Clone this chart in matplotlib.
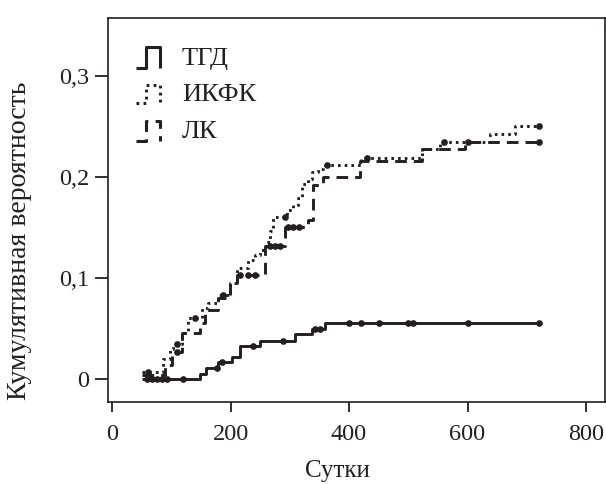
import matplotlib

matplotlib.use("Agg")
import matplotlib.pyplot as plt
import numpy as np

plt.rcParams["font.family"] = ["Liberation Serif", "DejaVu Serif"]

INK = "#231f20"

# step curves: event time (days) -> cumulative probability
tgd_t = [50, 149, 159, 179, 202, 216, 250, 309, 338, 360, 720]
tgd_p = [0.0, 0.005, 0.011, 0.017, 0.022, 0.033, 0.038, 0.044, 0.049, 0.055, 0.055]
tgd_cens = [59, 68, 76, 84, 93, 120, 177, 186, 238, 289, 343, 351, 400, 420, 451, 500, 508, 601, 720]

ikfk_t = [50, 86, 98, 103, 118, 128, 152, 162, 179, 199, 211, 230, 241, 250, 260, 266, 271,
          295, 305, 314, 321, 330, 338, 348, 356, 420, 523, 553, 638, 680, 720]
ikfk_p = [0.007, 0.020, 0.030, 0.035, 0.045, 0.060, 0.070, 0.075, 0.083, 0.095, 0.110, 0.118,
          0.123, 0.128, 0.135, 0.146, 0.160, 0.167, 0.172, 0.179, 0.193, 0.198, 0.205, 0.208,
          0.212, 0.219, 0.227, 0.234, 0.242, 0.250, 0.250]
ikfk_cens = [60, 110, 140, 188, 292, 362, 430, 560, 720]

lk_t = [50, 89, 101, 118, 149, 157, 179, 199, 211, 258, 292, 331, 339, 356, 419, 523, 596, 720]
lk_p = [0.004, 0.014, 0.027, 0.045, 0.055, 0.068, 0.080, 0.095, 0.103, 0.131, 0.150, 0.157,
        0.192, 0.200, 0.216, 0.227, 0.234, 0.234]
lk_cens = [110, 216, 230, 241, 266, 275, 283, 297, 305, 316, 600, 720]

series = [
    ("ТГД", tgd_t, tgd_p, tgd_cens, "-"),
    ("ИКФК", ikfk_t, ikfk_p, ikfk_cens, (0, (0.9, 1.4))),
    ("ЛК", lk_t, lk_p, lk_cens, (0, (4, 2.4))),
]

x_ticks = [0, 200, 400, 600, 800]
y_ticks = [0, 0.1, 0.2, 0.3]
y_tick_labels = ["0", "0,1", "0,2", "0,3"]

fig = plt.figure(figsize=(6.06, 4.84), dpi=100)
ax = fig.add_axes([108 / 606, 1 - 402 / 484, 497 / 606, 384 / 484])

for name, t, p, cens, ls in series:
    t = np.asarray(t, float)
    p = np.asarray(p, float)
    ax.step(t, p, where="post", color=INK, lw=2.1, ls=ls, solid_capstyle="butt")
    cens = np.asarray(cens, float)
    idx = np.searchsorted(t, cens, side="right") - 1
    ax.plot(cens, p[idx], "o", color=INK, ms=3.8, ls="none")

ax.set_xlim(-6.8, 832)
ax.set_ylim(-0.0228, 0.357)
ax.set_xticks(x_ticks)
ax.set_yticks(y_ticks)
ax.set_yticklabels(y_tick_labels)
ax.tick_params(direction="out", width=1.3, labelsize=17.5, colors=INK)
ax.tick_params(axis="x", length=7.5, pad=8)
ax.tick_params(axis="y", length=9.5, pad=4)
for s in ax.spines.values():
    s.set_linewidth(1.2)
    s.set_color(INK)

ax.set_xlabel("Сутки", fontsize=18, color=INK)
ax.set_ylabel("Кумулятивная вероятность", fontsize=20, color=INK)
ax.xaxis.set_label_coords(0.461, -0.150)
ax.yaxis.set_label_coords(-0.152, 0.42)

# legend drawn by hand: little step glyphs plus labels
glyph_x = np.array([0.056, 0.076, 0.076, 0.104, 0.104])
glyph_y = np.array([0.0, 0.0, 1.0, 1.0, 0.0])
rows = [(0.870, 0.925), (0.779, 0.826), (0.680, 0.732)]
for (name, _, _, _, ls), (y0, y1) in zip(series, rows):
    ax.plot(glyph_x, y0 + glyph_y * (y1 - y0), transform=ax.transAxes, color=INK,
            lw=2.2, ls=ls, solid_capstyle="butt", clip_on=False)
    ax.text(0.149, (y0 + y1) / 2 - 0.004, name, transform=ax.transAxes, fontsize=19,
            color=INK, va="center", ha="left")

fig.savefig("out.png", dpi=100)
